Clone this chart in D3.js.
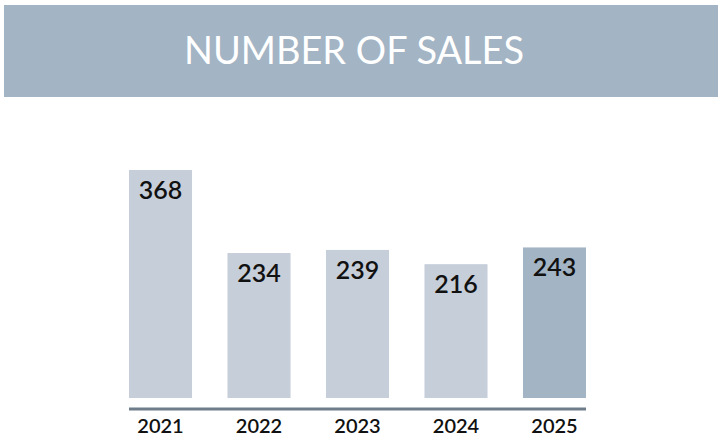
<!DOCTYPE html>
<html>
<head>
<meta charset="utf-8">
<script src="https://cdn.jsdelivr.net/npm/d3@7"></script>
<style>
  body { margin: 0; background: #fff; }
  text { font-family: Lato, "Open Sans", sans-serif; }
</style>
</head>
<body>
<div class="sales-chart"></div>
<script>
// data
let years = ["2021", "2022", "2023", "2024", "2025"];
let sales = [368, 234, 239, 216, 243];
let highlightYear = "2025";
let chartTitle = "NUMBER OF SALES";

let svg = d3.select(".sales-chart").append("svg")
    .attr("width", 722)
    .attr("height", 444);

// header band
svg.append("rect")
    .attr("x", 4).attr("y", 5)
    .attr("width", 714).attr("height", 92)
    .attr("fill", "#a3b4c4");

svg.append("text")
    .attr("x", 354)
    .attr("y", 64)
    .attr("text-anchor", "middle")
    .attr("fill", "#fff")
    .style("font-size", "38px")
    .attr("textLength", 340)
    .attr("lengthAdjust", "spacingAndGlyphs")
    .text(chartTitle);

let x = d3.scaleBand()
    .domain(years)
    .range([129, 586])
    .paddingInner(0.36)
    .paddingOuter(0);

let y = d3.scaleLinear()
    .domain([0, 368])
    .range([398, 170]);

let bars = svg.selectAll(".bar")
    .data(years)
    .enter().append("g")
    .attr("class", "bar");

bars.append("rect")
    .attr("x", function (d) { return x(d); })
    .attr("y", function (d, i) { return y(sales[i]); })
    .attr("width", x.bandwidth())
    .attr("height", function (d, i) { return y(0) - y(sales[i]); })
    .attr("fill", function (d) { return d === highlightYear ? "#a3b4c4" : "#c6ced9"; });

bars.append("text")
    .attr("x", function (d) { return x(d) + x.bandwidth() / 2; })
    .attr("y", function (d, i) { return y(sales[i]) + 29; })
    .attr("text-anchor", "middle")
    .attr("fill", "#111")
    .style("font-size", "25px")
    .style("font-weight", "600")
    .text(function (d, i) { return sales[i]; });

// axis
let axis = svg.append("g")
    .attr("transform", "translate(0,409)")
    .call(d3.axisBottom(x).tickSize(0).tickPadding(10));

axis.select(".domain")
    .attr("stroke", "#6f7c89")
    .attr("stroke-width", 3)
    .attr("d", "M129,0H586");

axis.selectAll(".tick text")
    .attr("fill", "#111")
    .style("font-size", "20px")
    .style("font-weight", "600")
    .style("font-family", "Lato, sans-serif");
</script>
</body>
</html>
